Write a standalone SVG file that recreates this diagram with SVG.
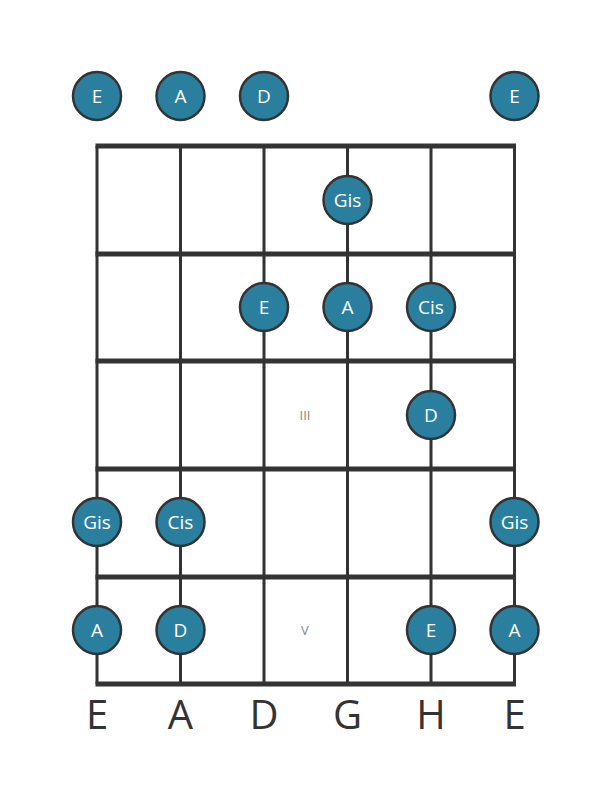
<svg xmlns="http://www.w3.org/2000/svg" width="611" height="801" viewBox="0 0 611 801">
<style>
.str{stroke:#333;stroke-width:3}
.fret{stroke:#333;stroke-width:5}
.dot{fill:#2a7f9e;stroke:#333;stroke-width:2.5}
.nt{fill:#fff;font-family:"Open Sans","DejaVu Sans",sans-serif;font-size:19px;text-anchor:middle;dominant-baseline:central}
.lab{fill:#333;font-family:"Open Sans","DejaVu Sans",sans-serif;font-size:40px;text-anchor:middle}
.fn{fill:#888;font-family:"Open Sans","DejaVu Sans",sans-serif;font-size:13px;text-anchor:middle;dominant-baseline:central}
</style>
<rect width="611" height="801" fill="#fff"/>
<g id="connectors">
<line class="str" x1="97" y1="146" x2="97" y2="684"/>
<line class="str" x1="180.5" y1="146" x2="180.5" y2="684"/>
<line class="str" x1="264" y1="146" x2="264" y2="684"/>
<line class="str" x1="347.5" y1="146" x2="347.5" y2="684"/>
<line class="str" x1="431" y1="146" x2="431" y2="684"/>
<line class="str" x1="514.5" y1="146" x2="514.5" y2="684"/>
<line class="fret" x1="95.5" y1="146" x2="516" y2="146"/>
<line class="fret" x1="95.5" y1="254" x2="516" y2="254"/>
<line class="fret" x1="95.5" y1="361" x2="516" y2="361"/>
<line class="fret" x1="95.5" y1="469" x2="516" y2="469"/>
<line class="fret" x1="95.5" y1="577" x2="516" y2="577"/>
<line class="fret" x1="95.5" y1="684" x2="516" y2="684"/>
</g>
<g id="fret-numbers">
<text class="fn" x="305" y="415">III</text>
<text class="fn" x="305" y="630">V</text>
</g>
<g id="open-E1"><circle class="dot" cx="97" cy="96" r="24"/><text class="nt" x="97" y="96">E</text></g>
<g id="open-A"><circle class="dot" cx="180.5" cy="96" r="24"/><text class="nt" x="180.5" y="96">A</text></g>
<g id="open-D"><circle class="dot" cx="264" cy="96" r="24"/><text class="nt" x="264" y="96">D</text></g>
<g id="open-E6"><circle class="dot" cx="514.5" cy="96" r="24"/><text class="nt" x="514.5" y="96">E</text></g>
<g id="f1-G"><circle class="dot" cx="347.5" cy="200" r="24"/><text class="nt" x="347.5" y="200">Gis</text></g>
<g id="f2-D"><circle class="dot" cx="264" cy="307" r="24"/><text class="nt" x="264" y="307">E</text></g>
<g id="f2-G"><circle class="dot" cx="347.5" cy="307" r="24"/><text class="nt" x="347.5" y="307">A</text></g>
<g id="f2-H"><circle class="dot" cx="431" cy="307" r="24"/><text class="nt" x="431" y="307">Cis</text></g>
<g id="f3-H"><circle class="dot" cx="431" cy="415" r="24"/><text class="nt" x="431" y="415">D</text></g>
<g id="f4-E"><circle class="dot" cx="97" cy="522" r="24"/><text class="nt" x="97" y="522">Gis</text></g>
<g id="f4-A"><circle class="dot" cx="180.5" cy="522" r="24"/><text class="nt" x="180.5" y="522">Cis</text></g>
<g id="f4-E6"><circle class="dot" cx="514.5" cy="522" r="24"/><text class="nt" x="514.5" y="522">Gis</text></g>
<g id="f5-E"><circle class="dot" cx="97" cy="630" r="24"/><text class="nt" x="97" y="630">A</text></g>
<g id="f5-A"><circle class="dot" cx="180.5" cy="630" r="24"/><text class="nt" x="180.5" y="630">D</text></g>
<g id="f5-H"><circle class="dot" cx="431" cy="630" r="24"/><text class="nt" x="431" y="630">E</text></g>
<g id="f5-E6"><circle class="dot" cx="514.5" cy="630" r="24"/><text class="nt" x="514.5" y="630">A</text></g>
<g id="string-labels">
<text class="lab" x="97" y="729">E</text>
<text class="lab" x="180.5" y="729">A</text>
<text class="lab" x="264" y="729">D</text>
<text class="lab" x="347.5" y="729">G</text>
<text class="lab" x="431" y="729">H</text>
<text class="lab" x="514.5" y="729">E</text>
</g>
</svg>
